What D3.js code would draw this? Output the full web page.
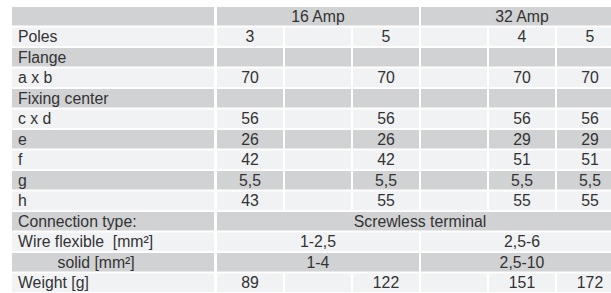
<!DOCTYPE html>
<html>
<head>
<meta charset="utf-8">
<script src="https://cdn.jsdelivr.net/npm/d3@7"></script>
<style>
  body { margin: 0; background: #fff; }
  svg { display: block; }
</style>
</head>
<body>
<svg id="chart" width="611" height="293"></svg>
<script>
// table contents, one array per row; fewer cells than columns means the cells are merged
const groups = ["16 Amp", "32 Amp"];
const rowLabels = ["", "Poles", "Flange", "a x b", "Fixing center", "c x d", "e", "f", "g", "h",
  "Connection type:", "Wire flexible  [mm²]", "\u00a0\u00a0\u00a0\u00a0\u00a0\u00a0\u00a0\u00a0\u00a0solid [mm²]", "Weight [g]"];
const poles = ["3", "", "5", "", "4", "5"];
const flange = ["", "", "", "", "", ""];
const axb = ["70", "", "70", "", "70", "70"];
const fixingCenter = ["", "", "", "", "", ""];
const cxd = ["56", "", "56", "", "56", "56"];
const e = ["26", "", "26", "", "29", "29"];
const f = ["42", "", "42", "", "51", "51"];
const g = ["5,5", "", "5,5", "", "5,5", "5,5"];
const h = ["43", "", "55", "", "55", "55"];
const connectionType = ["Screwless terminal"];
const wireFlexible = ["1-2,5", "2,5-6"];
const wireSolid = ["1-4", "2,5-10"];
const weight = ["89", "", "122", "", "151", "172"];

const rowCells = [groups, poles, flange, axb, fixingCenter, cxd, e, f, g, h,
  connectionType, wireFlexible, wireSolid, weight];

const nCols = 6;
const gap = 2;
const fillDark = "#d1d2d4";
const fillLight = "#f1f2f3";

const svg = d3.select("#chart");

const y = d3.scaleBand()
  .domain(d3.range(rowLabels.length))
  .range([7, 7 + rowLabels.length * 20.5]);

const x = d3.scaleLinear()
  .domain([0, nCols])
  .range([217, 625]);

const labelLeft = 12;

const rows = svg.selectAll("g.row")
  .data(rowLabels.map((label, i) => ({ label, i, cells: rowCells[i] })))
  .join("g")
  .attr("class", "row")
  .attr("transform", d => `translate(0,${y(d.i)})`);

const rowH = y.bandwidth() - gap;

// label column
rows.append("rect")
  .attr("x", labelLeft)
  .attr("width", x(0) - labelLeft - gap - 1)
  .attr("height", rowH)
  .attr("fill", d => d.i % 2 === 0 ? fillDark : fillLight);

rows.append("text")
  .attr("x", labelLeft + 6)
  .attr("y", rowH / 2)
  .attr("dy", "0.36em")
  .style("white-space", "pre")
  .text(d => d.label);

// value cells
rows.each(function (d) {
  const span = nCols / d.cells.length;
  const cells = d.cells.map((t, j) => ({ t, x0: x(j * span), x1: x((j + 1) * span) - gap }));
  const sel = d3.select(this).selectAll("g.cell")
    .data(cells)
    .join("g")
    .attr("class", "cell");
  sel.append("rect")
    .attr("x", c => c.x0)
    .attr("width", c => c.x1 - c.x0)
    .attr("height", rowH)
    .attr("fill", d.i % 2 === 0 ? fillDark : fillLight);
  sel.append("text")
    .attr("x", c => (c.x0 + c.x1) / 2)
    .attr("y", rowH / 2)
    .attr("dy", "0.36em")
    .attr("text-anchor", "middle")
    .text(c => c.t);
});

svg.selectAll("text")
  .attr("font-family", "'Liberation Sans', Arial, sans-serif")
  .attr("font-size", 15.8)
  .attr("fill", "#333");
</script>
</body>
</html>
